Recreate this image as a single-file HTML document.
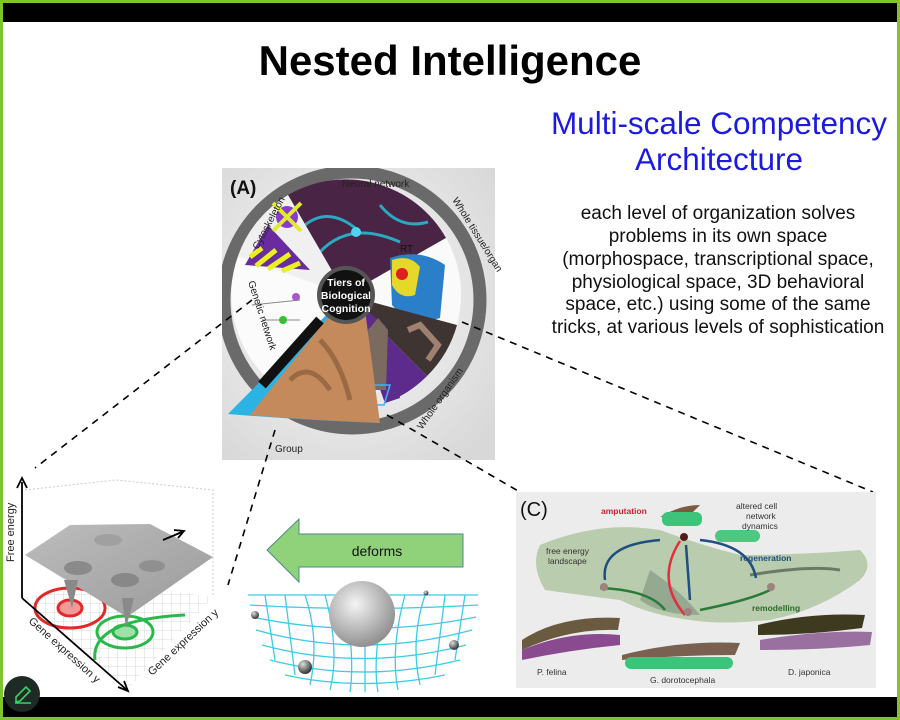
<!DOCTYPE html>
<html><head><meta charset="utf-8"><style>
html,body{margin:0;padding:0;width:900px;height:720px;overflow:hidden;background:#fff}
svg{display:block}
text{font-family:"Liberation Sans",Arial,sans-serif}
</style></head><body>
<svg width="900" height="720" viewBox="0 0 900 720" xmlns="http://www.w3.org/2000/svg">
<defs>
<radialGradient id="bgA" cx="0.45" cy="0.45" r="0.7"><stop offset="0" stop-color="#fafafa"/><stop offset="1" stop-color="#d8d8d8"/></radialGradient>
<radialGradient id="sph" cx="0.4" cy="0.35" r="0.7"><stop offset="0" stop-color="#f4f4f4"/><stop offset="1" stop-color="#8a8a8a"/></radialGradient>
<radialGradient id="ball" cx="0.35" cy="0.3" r="0.7"><stop offset="0" stop-color="#ddd"/><stop offset="1" stop-color="#333"/></radialGradient>
<linearGradient id="surf" x1="0" y1="0" x2="1" y2="1"><stop offset="0" stop-color="#bdbdbd"/><stop offset="1" stop-color="#9a9a9a"/></linearGradient>
<pattern id="grid" width="9" height="9" patternUnits="userSpaceOnUse"><path d="M0 0H9M0 0V9" stroke="#ccc" stroke-width="0.8" fill="none"/></pattern>
<clipPath id="clipA"><rect x="222" y="168" width="273" height="292"/></clipPath>
</defs>
<rect x="0" y="0" width="900" height="720" fill="#7ec52d"/>
<rect x="3" y="3" width="894" height="714" fill="#fff"/>
<rect x="3" y="3" width="894" height="19" fill="#000"/>
<rect x="3" y="697" width="894" height="20" fill="#000"/>

<text x="450" y="75" text-anchor="middle" font-size="42" font-weight="bold" fill="#000">Nested Intelligence</text>
<text x="719" y="134" text-anchor="middle" font-size="31.5" fill="#1b1be0">Multi-scale Competency</text>
<text x="719" y="170" text-anchor="middle" font-size="31.5" fill="#1b1be0">Architecture</text>
<g font-size="19" fill="#111" text-anchor="middle">
<text x="718" y="219">each level of organization solves</text>
<text x="718" y="242">problems in its own space</text>
<text x="718" y="265">(morphospace, transcriptional space,</text>
<text x="718" y="288">physiological space, 3D behavioral</text>
<text x="718" y="310">space, etc.) using some of the same</text>
<text x="718" y="333">tricks, at various levels of sophistication</text>
</g>

<!-- Panel A -->
<rect x="222" y="168" width="273" height="292" fill="url(#bgA)"/>
<g clip-path="url(#clipA)">
<circle cx="352" cy="300" r="128" fill="none" stroke="#6a6a6a" stroke-width="13"/>
<path d="M346 295 L288 195 A115 115 0 0 1 446 238 Z" fill="#4a2444"/>
<path d="M305 225 Q330 205 360 232 M320 252 Q350 220 400 242 M380 205 Q400 230 428 222" stroke="#2aa9c0" stroke-width="3" fill="none"/>
<circle cx="356" cy="232" r="5" fill="#4fd4f0"/>
<path d="M346 295 L446 238 A115 115 0 0 1 457 325 Z" fill="#fafafa"/>
<path d="M390 258 Q420 248 445 265 L440 318 Q410 328 392 305 Z" fill="#2b7fc9"/>
<path d="M392 260 Q410 254 420 267 L415 295 Q400 300 392 285 Z" fill="#e6d82a"/>
<circle cx="402" cy="274" r="6" fill="#e02020"/>
<text x="400" y="252" font-size="10" fill="#111">RT</text>
<path d="M346 295 L457 325 A115 115 0 0 1 427 376 Z" fill="#3e3431"/>
<path d="M346 295 L427 376 A115 115 0 0 1 385 403 Z" fill="#5c2b8c"/>
<path d="M346 295 L385 325 L400 398 L385 403 Z" fill="#5c2b8c"/>
<path d="M408 330 L420 325 L438 345 L428 360" stroke="#a08070" stroke-width="6" fill="none"/>
<path d="M368 330 L378 318 L388 330 L386 390 L370 390 Z" fill="#7a6a60"/>
<path d="M366 385 L390 385 L384 405 L372 405 Z" fill="none" stroke="#40b0ff" stroke-width="1.5"/>
<path d="M346 295 L228 414 Q300 420 380 423 Z" fill="#2bb3e3"/>
<path d="M346 295 L250 415 Q310 420 380 423 L365 310 Z" fill="#c48a5c"/>
<path d="M290 380 Q310 360 330 390 M320 340 Q340 360 350 400" stroke="#9a6a44" stroke-width="5" fill="none"/>
<path d="M346 295 L238 256 A115 115 0 0 0 265 376 Z" fill="#fbfbfb"/>
<circle cx="283" cy="320" r="4" fill="#2c2"/><circle cx="296" cy="297" r="4" fill="#a5c"/>
<path d="M252 305 L300 300 M262 320 L300 320" stroke="#888" stroke-width="1"/>
<path d="M346 295 L238 256 A115 115 0 0 1 288 195 Z" fill="#f0f0f0"/>
<path d="M245 265 L268 225 L310 270 Z" fill="#6a2aa0"/>
<path d="M250 257 L262 248 M256 266 L276 250 M268 269 L290 254 M282 271 L300 263" stroke="#e8f020" stroke-width="5"/>
<circle cx="287" cy="217" r="11" fill="#8a3ad0"/>
<path d="M273 203 L301 231 M301 203 L273 231" stroke="#e0ea30" stroke-width="4"/>
</g>
<line x1="320" y1="320" x2="262" y2="385" stroke="#111" stroke-width="10"/>
<circle cx="346" cy="295" r="29" fill="#555"/>
<circle cx="346" cy="295" r="25" fill="#111"/>
<g font-size="10.5" font-weight="bold" fill="#fff" text-anchor="middle">
<text x="346" y="286">Tiers of</text><text x="346" y="299">Biological</text><text x="346" y="312">Cognition</text></g>
<text x="230" y="194" font-size="19" font-weight="bold" fill="#111">(A)</text>
<g font-size="10" fill="#222">
<text x="342" y="187">Neural network</text>
<text transform="translate(452 200) rotate(58)">Whole tissue/organ</text>
<text transform="translate(422 430) rotate(-55)">Whole organism</text>
<text transform="translate(258 250) rotate(-62)">Cytoskeleton</text>
<text transform="translate(248 282) rotate(72)">Genetic network</text>
<text x="275" y="452">Group</text>
</g>

<g stroke="#000" stroke-width="1.6" stroke-dasharray="7 6" fill="none">
<line x1="252" y1="300" x2="35" y2="468"/>
<line x1="275" y1="430" x2="228" y2="585"/>
<line x1="462" y1="322" x2="873" y2="492"/>
<line x1="387" y1="415" x2="520" y2="492"/>
</g>

<!-- left plot -->
<path d="M25 490 L116 480 L213 490 L213 597" stroke="#ccc" stroke-dasharray="2 2" fill="none"/>
<path d="M23 597 L127 690 L213 597 L116 583 Z" fill="url(#grid)"/>
<g fill="none" stroke-width="3">
<ellipse cx="70" cy="608" rx="35" ry="20" stroke="#e02a2a"/>
<ellipse cx="70" cy="608" rx="12" ry="8" stroke="#e02a2a" fill="#f29a9a"/>
<ellipse cx="125" cy="632" rx="28" ry="16" stroke="#2ab84a"/>
<ellipse cx="125" cy="632" rx="12" ry="7" stroke="#2ab84a" fill="#9de0a8"/>
<path d="M95 660 Q90 620 185 615" stroke="#2ab84a"/>
</g>
<path d="M25 555 L70 525 L150 524 L213 557 L127 617 Z" fill="url(#surf)"/>
<ellipse cx="78" cy="568" rx="14" ry="7" fill="#8a8a8a"/><ellipse cx="152" cy="566" rx="13" ry="6" fill="#909090"/>
<ellipse cx="125" cy="580" rx="14" ry="7" fill="#888"/><ellipse cx="108" cy="540" rx="14" ry="6" fill="#a0a0a0"/>
<path d="M64 580 L72 608 L78 580 Z M122 598 L126 628 L134 598 Z" fill="#8a8a8a"/>
<g stroke="#000" stroke-width="1.8" fill="none">
<line x1="22" y1="598" x2="22" y2="482"/><path d="M17 488 L22 478 L27 488"/>
<line x1="22" y1="598" x2="127" y2="690"/><path d="M118 687 L128 691 L124 681"/>
<line x1="163" y1="540" x2="182" y2="532"/><path d="M174 530 L184 531 L178 538"/>
</g>
<g font-size="11" fill="#222">
<text transform="translate(14 562) rotate(-90)">Free energy</text>
<text transform="translate(28 622) rotate(42)">Gene expression y</text>
<text transform="translate(152 676) rotate(-43)">Gene expression y</text>
</g>

<path d="M267 550 L299 519 L299 534 L463 534 L463 567 L299 567 L299 582 Z" fill="#8fd27a" stroke="#4c8a8a" stroke-width="1"/>
<text x="377" y="556" text-anchor="middle" font-size="14" fill="#111">deforms</text>
<g stroke="#3ccbe8" stroke-width="1.3" fill="none">
<path d="M248 595 Q360 595 478 595"/><path d="M250 605 Q362 612 478 605"/>
<path d="M252 617 Q362 640 476 617"/><path d="M256 630 Q362 660 472 630"/>
<path d="M262 645 Q362 672 466 645"/><path d="M270 660 Q362 684 460 660"/>
<path d="M285 675 Q362 692 445 675"/>
<path d="M265 595 L275 660"/><path d="M285 595 L295 675"/><path d="M305 595 Q320 640 310 685"/>
<path d="M325 595 Q340 650 330 690"/><path d="M345 595 Q355 660 350 692"/><path d="M365 595 L365 692"/>
<path d="M385 595 Q372 660 378 692"/><path d="M405 595 Q390 650 398 690"/><path d="M425 595 Q410 640 420 685"/>
<path d="M445 595 L435 675"/><path d="M465 595 L455 660"/>
</g>
<circle cx="362" cy="614" r="33" fill="url(#sph)"/>
<circle cx="255" cy="615" r="4" fill="url(#ball)"/><circle cx="305" cy="667" r="7" fill="url(#ball)"/>
<circle cx="454" cy="645" r="5" fill="url(#ball)"/><circle cx="426" cy="593" r="2.5" fill="url(#ball)"/>

<!-- Panel C -->
<rect x="516" y="492" width="360" height="196" fill="#ececec"/>
<path d="M540 545 Q600 520 660 530 Q700 545 740 555 Q800 555 860 550 Q875 565 860 580 Q820 610 770 620 Q720 625 690 620 Q650 615 620 600 Q580 595 545 590 Q530 565 540 545 Z" fill="#b9ccae"/>
<path d="M650 570 Q680 590 700 615 Q660 615 640 600 Z" fill="#95a890"/>
<path d="M750 575 Q810 565 840 570" stroke="#6b7a66" stroke-width="3" fill="none"/>
<g fill="none" stroke-width="2.5">
<path d="M660 540 Q600 545 605 580" stroke="#1f4e80"/>
<path d="M686 545 L690 600" stroke="#1f4e80"/>
<path d="M700 540 Q750 545 756 578" stroke="#1f4e80"/>
<path d="M685 615 Q655 580 680 541" stroke="#e03040"/>
<path d="M600 588 Q650 590 665 610 M700 610 Q750 600 770 590" stroke="#2a7a3a"/>
</g>
<circle cx="684" cy="537" r="4" fill="#5a1a1a"/><circle cx="604" cy="587" r="4" fill="#a08080"/>
<circle cx="688" cy="612" r="4" fill="#a08080"/><circle cx="771" cy="587" r="4" fill="#a08080"/>
<path d="M660 517 Q680 505 700 505 L690 515 Z" fill="#7a5a40"/>
<rect x="662" y="512" width="40" height="14" rx="6" fill="#3ec47a"/>
<rect x="715" y="530" width="45" height="12" rx="6" fill="#4cc880"/>
<path d="M522 640 Q560 615 620 618 L618 630 Q570 628 522 650 Z" fill="#6a5a40"/>
<path d="M522 650 Q570 630 620 635 L620 645 Q570 650 522 660 Z" fill="#8a4a90"/>
<path d="M622 655 Q680 640 740 643 L735 655 Q680 655 622 660 Z" fill="#7a6050"/>
<rect x="625" y="657" width="108" height="12" rx="6" fill="#3ec47a"/>
<path d="M758 625 Q810 612 865 615 L862 628 Q810 635 758 635 Z" fill="#3e3a20"/>
<path d="M760 640 Q820 630 872 632 L870 645 Q820 650 760 650 Z" fill="#9a70a0"/>
<text x="520" y="516" font-size="20" fill="#111">(C)</text>
<g font-size="8.5">
<text x="601" y="514" fill="#d02030" font-weight="bold">amputation</text>
<text x="736" y="509" fill="#333">altered cell</text>
<text x="746" y="519" fill="#333">network</text>
<text x="742" y="529" fill="#333">dynamics</text>
<text x="546" y="554" fill="#333">free energy</text>
<text x="548" y="564" fill="#333">landscape</text>
<text x="740" y="561" fill="#1f4e80" font-weight="bold">regeneration</text>
<text x="752" y="611" fill="#2a6a2a" font-weight="bold">remodelling</text>
<text x="537" y="675" fill="#333">P. felina</text>
<text x="650" y="683" fill="#333">G. dorotocephala</text>
<text x="788" y="675" fill="#333">D. japonica</text>
</g>

<circle cx="22" cy="694" r="18" fill="#1e2a24"/>
<path d="M16 702 L16 697 L26 687 L30 691 L20 701 Z M15 703 L31 703" stroke="#3ccf6a" stroke-width="1.6" fill="none"/>
</svg>
</body></html>
